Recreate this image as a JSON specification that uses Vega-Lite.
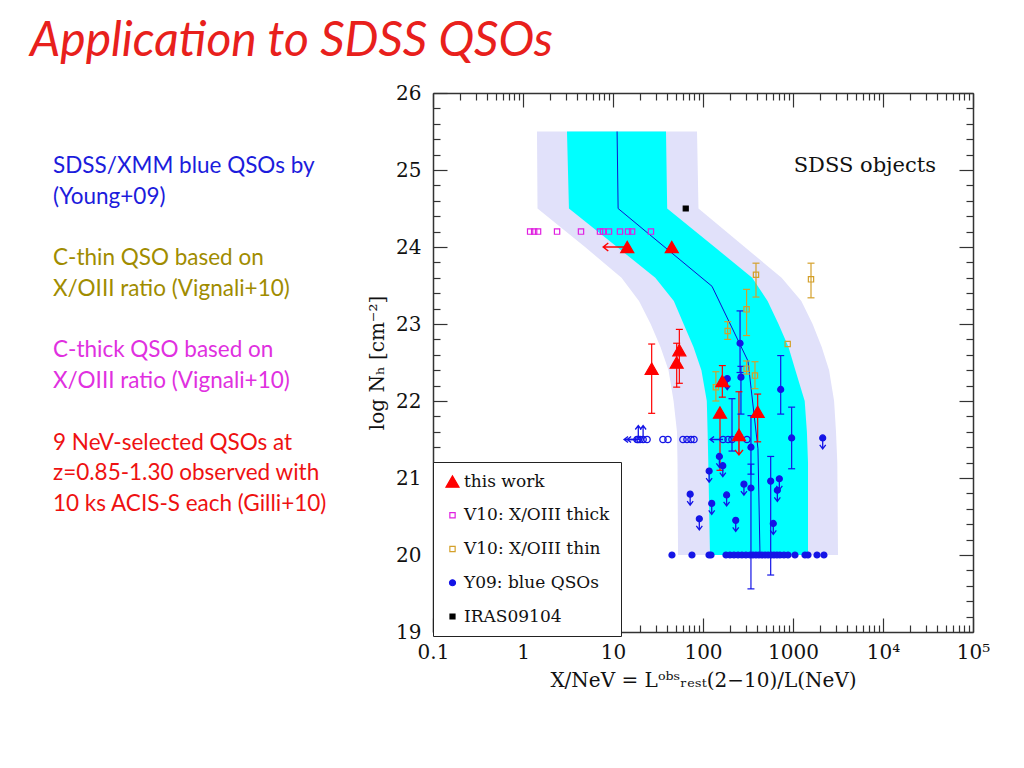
{
  "$schema": "https://vega.github.io/schema/vega-lite/v6.json",
  "background": "white",
  "padding": {"left": 0, "top": 18, "right": 0, "bottom": 0},
  "bounds": "flush",
  "spacing": 327,
  "title": {"text": "Application to SDSS QSOs", "anchor": "start", "font": "Lato", "fontSize": 48, "fontStyle": "italic", "fontWeight": "normal", "color": "#e8201c", "dx": 30, "offset": 17},
  "datasets": {
    "notes": [
      {"line": 0, "text": "SDSS/XMM blue QSOs by", "group": "Y09"},
      {"line": 1, "text": "(Young+09)", "group": "Y09"},
      {"line": 3, "text": "C-thin QSO based on", "group": "thin"},
      {"line": 4, "text": "X/OIII ratio (Vignali+10)", "group": "thin"},
      {"line": 6, "text": "C-thick QSO based on", "group": "thick"},
      {"line": 7, "text": "X/OIII ratio (Vignali+10)", "group": "thick"},
      {"line": 9, "text": "9 NeV-selected QSOs at", "group": "this"},
      {"line": 10, "text": "z=0.85-1.30 observed with", "group": "this"},
      {"line": 11, "text": "10 ks ACIS-S each (Gilli+10)", "group": "this"}
    ],
    "outer": [
      {"nh": 25.5, "lo": 1.43, "hi": 85.8},
      {"nh": 24.5, "lo": 1.45, "hi": 89.1},
      {"nh": 24.0, "lo": 4.89, "hi": 290.6},
      {"nh": 23.6, "lo": 12.43, "hi": 747},
      {"nh": 23.3, "lo": 19.45, "hi": 1237},
      {"nh": 23.0, "lo": 26.2, "hi": 1651},
      {"nh": 22.7, "lo": 33.7, "hi": 2084},
      {"nh": 22.4, "lo": 41.4, "hi": 2518},
      {"nh": 22.0, "lo": 47.1, "hi": 2862},
      {"nh": 21.6, "lo": 51.4, "hi": 3004},
      {"nh": 21.2, "lo": 52.1, "hi": 3106},
      {"nh": 20.0, "lo": 52.8, "hi": 3162}
    ],
    "inner": [
      {"nh": 25.5, "lo": 3.08, "hi": 38.8},
      {"nh": 24.5, "lo": 3.24, "hi": 40.0},
      {"nh": 24.0, "lo": 11.1, "hi": 134.5},
      {"nh": 23.6, "lo": 29.5, "hi": 352},
      {"nh": 23.3, "lo": 47.4, "hi": 522},
      {"nh": 23.0, "lo": 60.9, "hi": 690},
      {"nh": 22.7, "lo": 78.4, "hi": 891},
      {"nh": 22.4, "lo": 96.0, "hi": 1063},
      {"nh": 22.0, "lo": 110.2, "hi": 1349},
      {"nh": 21.6, "lo": 112.5, "hi": 1427},
      {"nh": 21.2, "lo": 114.5, "hi": 1468},
      {"nh": 20.0, "lo": 119.6, "hi": 1468}
    ],
    "median": [
      {"x": 11.1, "nh": 25.5},
      {"x": 11.4, "nh": 24.5},
      {"x": 125.9, "nh": 23.49},
      {"x": 316, "nh": 22.52},
      {"x": 408, "nh": 21.38},
      {"x": 430, "nh": 20.0}
    ],
    "pts": [
      {"series": "Y09: blue QSOs", "x": 258, "y": 22.75, "lo": 22.37, "hi": 23.17},
      {"series": "Y09: blue QSOs", "x": 264, "y": 22.31, "lo": 21.83, "hi": 22.45},
      {"series": "Y09: blue QSOs", "x": 730, "y": 22.15, "lo": 21.83, "hi": 22.59},
      {"series": "Y09: blue QSOs", "x": 966, "y": 21.52, "lo": 21.12, "hi": 21.92},
      {"series": "Y09: blue QSOs", "x": 341, "y": 21.4, "lo": 21.05, "hi": 21.81},
      {"series": "Y09: blue QSOs", "x": 341, "y": 20.87, "lo": 19.56, "hi": 21.18},
      {"series": "Y09: blue QSOs", "x": 565, "y": 20.96, "lo": 19.74, "hi": 21.28},
      {"series": "Y09: blue QSOs", "x": 186, "y": 22.29, "lim": "down"},
      {"series": "Y09: blue QSOs", "x": 2138, "y": 21.52, "lim": "down"},
      {"series": "Y09: blue QSOs", "x": 152, "y": 21.28, "lim": "down"},
      {"series": "Y09: blue QSOs", "x": 166, "y": 21.16, "lim": "down"},
      {"series": "Y09: blue QSOs", "x": 117, "y": 21.09, "lim": "down"},
      {"series": "Y09: blue QSOs", "x": 183, "y": 20.78, "lim": "down"},
      {"series": "Y09: blue QSOs", "x": 125, "y": 20.67, "lim": "down"},
      {"series": "Y09: blue QSOs", "x": 285, "y": 20.92, "lim": "down"},
      {"series": "Y09: blue QSOs", "x": 705, "y": 20.99, "lim": "down"},
      {"series": "Y09: blue QSOs", "x": 670, "y": 20.84, "lim": "down"},
      {"series": "Y09: blue QSOs", "x": 604, "y": 20.41, "lim": "down"},
      {"series": "Y09: blue QSOs", "x": 231, "y": 20.45, "lim": "down"},
      {"series": "Y09: blue QSOs", "x": 91, "y": 20.47, "lim": "down"},
      {"series": "Y09: blue QSOs", "x": 72, "y": 20.79, "lim": "down"},
      {"series": "Y09: blue QSOs", "x": 45.2, "y": 20},
      {"series": "Y09: blue QSOs", "x": 75.4, "y": 20},
      {"series": "Y09: blue QSOs", "x": 116.6, "y": 20},
      {"series": "Y09: blue QSOs", "x": 122.7, "y": 20},
      {"series": "Y09: blue QSOs", "x": 180, "y": 20},
      {"series": "Y09: blue QSOs", "x": 199.5, "y": 20},
      {"series": "Y09: blue QSOs", "x": 221, "y": 20},
      {"series": "Y09: blue QSOs", "x": 245, "y": 20},
      {"series": "Y09: blue QSOs", "x": 271, "y": 20},
      {"series": "Y09: blue QSOs", "x": 300, "y": 20},
      {"series": "Y09: blue QSOs", "x": 333, "y": 20},
      {"series": "Y09: blue QSOs", "x": 359, "y": 20},
      {"series": "Y09: blue QSOs", "x": 388, "y": 20},
      {"series": "Y09: blue QSOs", "x": 419, "y": 20},
      {"series": "Y09: blue QSOs", "x": 452, "y": 20},
      {"series": "Y09: blue QSOs", "x": 489, "y": 20},
      {"series": "Y09: blue QSOs", "x": 528, "y": 20},
      {"series": "Y09: blue QSOs", "x": 570, "y": 20},
      {"series": "Y09: blue QSOs", "x": 615, "y": 20},
      {"series": "Y09: blue QSOs", "x": 664, "y": 20},
      {"series": "Y09: blue QSOs", "x": 717, "y": 20},
      {"series": "Y09: blue QSOs", "x": 794, "y": 20},
      {"series": "Y09: blue QSOs", "x": 880, "y": 20},
      {"series": "Y09: blue QSOs", "x": 1052, "y": 20},
      {"series": "Y09: blue QSOs", "x": 1359, "y": 20},
      {"series": "Y09: blue QSOs", "x": 1468, "y": 20},
      {"series": "Y09: blue QSOs", "x": 1848, "y": 20},
      {"series": "Y09: blue QSOs", "x": 2207, "y": 20},
      {"series": "Y09: blue QSOs", "x": 18.5, "y": 21.5, "kind": "open", "lim": "left"},
      {"series": "Y09: blue QSOs", "x": 19.1, "y": 21.5, "kind": "open", "lim": "up"},
      {"series": "Y09: blue QSOs", "x": 20.0, "y": 21.5, "kind": "open", "lim": "left"},
      {"series": "Y09: blue QSOs", "x": 21.6, "y": 21.5, "kind": "open", "lim": "up"},
      {"series": "Y09: blue QSOs", "x": 23.9, "y": 21.5, "kind": "open"},
      {"series": "Y09: blue QSOs", "x": 35.9, "y": 21.5, "kind": "open"},
      {"series": "Y09: blue QSOs", "x": 40.8, "y": 21.5, "kind": "open"},
      {"series": "Y09: blue QSOs", "x": 59.9, "y": 21.5, "kind": "open"},
      {"series": "Y09: blue QSOs", "x": 66.4, "y": 21.5, "kind": "open"},
      {"series": "Y09: blue QSOs", "x": 73.6, "y": 21.5, "kind": "open"},
      {"series": "Y09: blue QSOs", "x": 79.4, "y": 21.5, "kind": "open"},
      {"series": "Y09: blue QSOs", "x": 167, "y": 21.5, "kind": "open", "lim": "left"},
      {"series": "Y09: blue QSOs", "x": 190, "y": 21.5, "kind": "open"},
      {"series": "Y09: blue QSOs", "x": 210, "y": 21.5, "kind": "open", "lo": 21.35, "hi": 22.03},
      {"series": "Y09: blue QSOs", "x": 308, "y": 21.5, "kind": "open"},
      {"series": "IRAS09104", "x": 64.3, "y": 24.5},
      {"series": "V10: X/OIII thick", "x": 1.2, "y": 24.2},
      {"series": "V10: X/OIII thick", "x": 1.33, "y": 24.2},
      {"series": "V10: X/OIII thick", "x": 1.47, "y": 24.2},
      {"series": "V10: X/OIII thick", "x": 2.39, "y": 24.2},
      {"series": "V10: X/OIII thick", "x": 4.41, "y": 24.2},
      {"series": "V10: X/OIII thick", "x": 7.17, "y": 24.2},
      {"series": "V10: X/OIII thick", "x": 7.74, "y": 24.2},
      {"series": "V10: X/OIII thick", "x": 9.03, "y": 24.2},
      {"series": "V10: X/OIII thick", "x": 11.96, "y": 24.2},
      {"series": "V10: X/OIII thick", "x": 14.7, "y": 24.2},
      {"series": "V10: X/OIII thick", "x": 16.3, "y": 24.2},
      {"series": "V10: X/OIII thick", "x": 26.4, "y": 24.2},
      {"series": "V10: X/OIII thin", "x": 388, "y": 23.64, "lo": 23.35, "hi": 23.79},
      {"series": "V10: X/OIII thin", "x": 1585, "y": 23.58, "lo": 23.34, "hi": 23.79},
      {"series": "V10: X/OIII thin", "x": 305, "y": 23.19, "lo": 22.85, "hi": 23.45},
      {"series": "V10: X/OIII thin", "x": 188, "y": 22.91, "lo": 22.8, "hi": 23.03},
      {"series": "V10: X/OIII thin", "x": 873, "y": 22.74},
      {"series": "V10: X/OIII thin", "x": 305, "y": 22.42, "lo": 22.35, "hi": 22.52},
      {"series": "V10: X/OIII thin", "x": 378, "y": 22.33, "lo": 22.16, "hi": 22.51},
      {"series": "V10: X/OIII thin", "x": 139, "y": 22.18, "lo": 22.0, "hi": 22.38},
      {"series": "this work", "x": 14.4, "y": 24.0, "lim": "left"},
      {"series": "this work", "x": 45, "y": 24.0},
      {"series": "this work", "x": 26.9, "y": 22.42, "lo": 21.84, "hi": 22.74},
      {"series": "this work", "x": 54.6, "y": 22.66, "lo": 22.23, "hi": 22.93},
      {"series": "this work", "x": 51, "y": 22.5, "lo": 22.18, "hi": 22.75},
      {"series": "this work", "x": 164, "y": 22.26, "lo": 22.05, "hi": 22.46},
      {"series": "this work", "x": 154.5, "y": 21.85, "lo": 21.1, "hi": 21.85},
      {"series": "this work", "x": 251, "y": 21.56, "lo": 21.56, "hi": 22.12, "lim": "down"},
      {"series": "this work", "x": 405, "y": 21.86, "lo": 21.47, "hi": 22.09}
    ]
  },
  "resolve": {
    "scale": {"color": "independent"},
    "legend": {"color": "independent"}
  },
  "hconcat": [
    {
      "width": 106,
      "height": 539,
      "data": {"name": "notes"},
      "mark": {"type": "text", "align": "left", "baseline": "middle", "font": "Lato", "fontSize": 22.5},
      "encoding": {
        "y": {"field": "line", "type": "quantitative", "scale": {"domain": [-2.376, 15.166], "reverse": true, "nice": false, "zero": false}, "axis": null},
        "text": {"field": "text"},
        "color": {"field": "group", "type": "nominal", "scale": {"domain": ["Y09", "thin", "thick", "this"], "range": ["#1c1cdc", "#a08c00", "#e030e0", "#ee1111"]}, "legend": null}
      }
    },
    {
      "width": 540,
      "height": 539,
      "title": {"text": "SDSS objects", "anchor": "end", "orient": "top", "frame": "group", "offset": -104, "dx": -37, "baseline": "middle", "font": "DejaVu Serif", "fontSize": 21, "fontWeight": "normal", "color": "#111"},
      "resolve": {"axis": {"x": "independent", "y": "independent"}},
      "layer": [
        {
          "data": {"name": "outer"},
          "mark": {"type": "area", "orient": "horizontal", "color": "#e1e1fa"},
          "encoding": {
            "y": {"field": "nh", "type": "quantitative", "scale": {"domain": [19, 26], "nice": false, "zero": false},
              "axis": {"orient": "left", "values": [19, 20, 21, 22, 23, 24, 25, 26], "format": "d", "tickSize": -14, "tickWidth": 1.2, "tickColor": "#333", "domainColor": "#333", "domainWidth": 1.5, "labelFont": "DejaVu Serif", "labelFontSize": 20, "labelColor": "#111", "labelPadding": 26, "labelOverlap": false, "labelFlush": false, "labelBound": false, "grid": false, "title": "log Nₕ [cm⁻²]", "titleFont": "DejaVu Serif", "titleFontSize": 20, "titleFontWeight": "normal", "titleColor": "#111", "titlePadding": 8, "zindex": 2}},
            "x": {"field": "lo", "type": "quantitative", "scale": {"type": "log", "domain": [0.1, 100000], "nice": false},
              "axis": {"orient": "bottom", "values": [0.1, 1, 10, 100, 1000, 10000, 100000], "labelExpr": "datum.value > 50000 ? '10⁵' : datum.value > 5000 ? '10⁴' : datum.value < 0.5 ? '0.1' : format(datum.value, 'd')", "tickSize": -14, "tickWidth": 1.2, "tickColor": "#333", "domainColor": "#333", "domainWidth": 1.5, "labelFont": "DejaVu Serif", "labelFontSize": 20, "labelColor": "#111", "labelPadding": 24, "labelOverlap": false, "labelFlush": false, "labelBound": false, "grid": false, "title": "X/NeV = Lᵒᵇˢᵣₑₛₜ(2−10)/L(NeV)", "titleFont": "DejaVu Serif", "titleFontSize": 20, "titleFontWeight": "normal", "titleColor": "#111", "titlePadding": 8, "zindex": 2}},
            "x2": {"field": "hi"}
          }
        },
        {
          "data": {"name": "inner"},
          "mark": {"type": "area", "orient": "horizontal", "color": "#00ffff"},
          "encoding": {
            "y": {"field": "nh", "type": "quantitative", "scale": {"domain": [19, 26], "nice": false, "zero": false},
              "axis": {"orient": "left", "values": [19.2, 19.4, 19.6, 19.8, 20.2, 20.4, 20.6, 20.8, 21.2, 21.4, 21.6, 21.8, 22.2, 22.4, 22.6, 22.8, 23.2, 23.4, 23.6, 23.8, 24.2, 24.4, 24.6, 24.8, 25.2, 25.4, 25.6, 25.8], "labels": false, "domain": false, "tickSize": -7, "tickWidth": 1.2, "tickColor": "#333", "grid": false, "title": null, "zindex": 2}},
            "x": {"field": "lo", "type": "quantitative", "scale": {"type": "log", "domain": [0.1, 100000], "nice": false},
              "axis": {"orient": "bottom", "values": [0.2, 0.3, 0.4, 0.5, 0.6, 0.7, 0.8, 0.9, 2, 3, 4, 5, 6, 7, 8, 9, 20, 30, 40, 50, 60, 70, 80, 90, 200, 300, 400, 500, 600, 700, 800, 900, 2000, 3000, 4000, 5000, 6000, 7000, 8000, 9000, 20000, 30000, 40000, 50000, 60000, 70000, 80000, 90000], "labels": false, "domain": false, "tickSize": -7, "tickWidth": 1.2, "tickColor": "#333", "grid": false, "title": null, "zindex": 2}},
            "x2": {"field": "hi"}
          }
        },
        {
          "data": {"name": "median"},
          "mark": {"type": "line", "color": "#1010d0", "strokeWidth": 1},
          "encoding": {
            "y": {"field": "nh", "type": "quantitative", "scale": {"domain": [19, 26], "nice": false, "zero": false},
              "axis": {"orient": "right", "values": [19, 20, 21, 22, 23, 24, 25, 26], "labels": false, "tickSize": -14, "tickWidth": 1.2, "tickColor": "#333", "domainColor": "#333", "domainWidth": 1.5, "grid": false, "title": null, "zindex": 2}},
            "x": {"field": "x", "type": "quantitative", "scale": {"type": "log", "domain": [0.1, 100000], "nice": false},
              "axis": {"orient": "top", "values": [0.1, 1, 10, 100, 1000, 10000, 100000], "labels": false, "tickSize": -14, "tickWidth": 1.2, "tickColor": "#333", "domainColor": "#333", "domainWidth": 1.5, "grid": false, "title": null, "zindex": 2}}
          }
        },
        {
          "data": {"name": "pts"},
          "transform": [{"filter": "isValid(datum.lo)"}],
          "mark": {"type": "rule", "strokeWidth": 1.2},
          "encoding": {
            "y": {"field": "lo", "type": "quantitative", "scale": {"domain": [19, 26], "nice": false, "zero": false},
              "axis": {"orient": "right", "values": [19.2, 19.4, 19.6, 19.8, 20.2, 20.4, 20.6, 20.8, 21.2, 21.4, 21.6, 21.8, 22.2, 22.4, 22.6, 22.8, 23.2, 23.4, 23.6, 23.8, 24.2, 24.4, 24.6, 24.8, 25.2, 25.4, 25.6, 25.8], "labels": false, "domain": false, "tickSize": -7, "tickWidth": 1.2, "tickColor": "#333", "grid": false, "title": null, "zindex": 2}},
            "y2": {"field": "hi"},
            "x": {"field": "x", "type": "quantitative", "scale": {"type": "log", "domain": [0.1, 100000], "nice": false},
              "axis": {"orient": "top", "values": [0.2, 0.3, 0.4, 0.5, 0.6, 0.7, 0.8, 0.9, 2, 3, 4, 5, 6, 7, 8, 9, 20, 30, 40, 50, 60, 70, 80, 90, 200, 300, 400, 500, 600, 700, 800, 900, 2000, 3000, 4000, 5000, 6000, 7000, 8000, 9000, 20000, 30000, 40000, 50000, 60000, 70000, 80000, 90000], "labels": false, "domain": false, "tickSize": -7, "tickWidth": 1.2, "tickColor": "#333", "grid": false, "title": null, "zindex": 2}},
            "color": {"field": "series", "type": "nominal", "scale": {"domain": ["this work", "V10: X/OIII thick", "V10: X/OIII thin", "Y09: blue QSOs", "IRAS09104"], "range": ["#ff0000", "#e020e0", "#d4a02a", "#1414e6", "#000000"]}, "legend": null}
          }
        },
        {
          "data": {"name": "pts"},
          "transform": [{"filter": "isValid(datum.lo)"}, {"fold": ["lo", "hi"], "as": ["end", "val"]}],
          "mark": {"type": "point", "shape": "stroke", "size": 49, "strokeWidth": 1.2, "opacity": 1},
          "encoding": {
            "y": {"field": "val", "type": "quantitative", "scale": {"domain": [19, 26], "nice": false, "zero": false}, "axis": null},
            "x": {"field": "x", "type": "quantitative", "scale": {"type": "log", "domain": [0.1, 100000], "nice": false}, "axis": null},
            "color": {"field": "series", "type": "nominal", "scale": {"domain": ["this work", "V10: X/OIII thick", "V10: X/OIII thin", "Y09: blue QSOs", "IRAS09104"], "range": ["#ff0000", "#e020e0", "#d4a02a", "#1414e6", "#000000"]}, "legend": null}
          }
        },
        {
          "data": {"name": "pts"},
          "transform": [{"filter": "datum.lim == 'down' && datum.series == 'Y09: blue QSOs'"}],
          "mark": {"type": "point", "shape": "M0,0L0,11M-3,7L0,11L3,7", "size": 4, "filled": false, "stroke": "#1414e6", "strokeWidth": 1.3, "opacity": 1},
          "encoding": {
            "y": {"field": "y", "type": "quantitative", "scale": {"domain": [19, 26], "nice": false, "zero": false}, "axis": null},
            "x": {"field": "x", "type": "quantitative", "scale": {"type": "log", "domain": [0.1, 100000], "nice": false}, "axis": null}
          }
        },
        {
          "data": {"name": "pts"},
          "transform": [{"filter": "datum.lim == 'down' && datum.series == 'this work'"}],
          "mark": {"type": "point", "shape": "M0,0L0,20M-4,15L0,20L4,15", "size": 4, "filled": false, "stroke": "#ff0000", "strokeWidth": 1.5, "opacity": 1},
          "encoding": {
            "y": {"field": "y", "type": "quantitative", "scale": {"domain": [19, 26], "nice": false, "zero": false}, "axis": null},
            "x": {"field": "x", "type": "quantitative", "scale": {"type": "log", "domain": [0.1, 100000], "nice": false}, "axis": null}
          }
        },
        {
          "data": {"name": "pts"},
          "transform": [{"filter": "datum.lim == 'left' && datum.series == 'this work'"}],
          "mark": {"type": "point", "shape": "M0,0L-24,0M-19,-4L-24,0L-19,4", "size": 4, "filled": false, "stroke": "#ff0000", "strokeWidth": 1.5, "opacity": 1},
          "encoding": {
            "y": {"field": "y", "type": "quantitative", "scale": {"domain": [19, 26], "nice": false, "zero": false}, "axis": null},
            "x": {"field": "x", "type": "quantitative", "scale": {"type": "log", "domain": [0.1, 100000], "nice": false}, "axis": null}
          }
        },
        {
          "data": {"name": "pts"},
          "transform": [{"filter": "datum.lim == 'left' && datum.series == 'Y09: blue QSOs'"}],
          "mark": {"type": "point", "shape": "M0,0L-13,0M-9,-3L-13,0L-9,3", "size": 4, "filled": false, "stroke": "#1414e6", "strokeWidth": 1.3, "opacity": 1},
          "encoding": {
            "y": {"field": "y", "type": "quantitative", "scale": {"domain": [19, 26], "nice": false, "zero": false}, "axis": null},
            "x": {"field": "x", "type": "quantitative", "scale": {"type": "log", "domain": [0.1, 100000], "nice": false}, "axis": null}
          }
        },
        {
          "data": {"name": "pts"},
          "transform": [{"filter": "datum.lim == 'up'"}],
          "mark": {"type": "point", "shape": "M0,0L0,-14M-3,-10L0,-14L3,-10", "size": 4, "filled": false, "stroke": "#1414e6", "strokeWidth": 1.3, "opacity": 1},
          "encoding": {
            "y": {"field": "y", "type": "quantitative", "scale": {"domain": [19, 26], "nice": false, "zero": false}, "axis": null},
            "x": {"field": "x", "type": "quantitative", "scale": {"type": "log", "domain": [0.1, 100000], "nice": false}, "axis": null}
          }
        },
        {
          "data": {"name": "pts"},
          "transform": [{"filter": "datum.kind == 'open'"}],
          "mark": {"type": "point", "shape": "circle", "size": 40, "filled": false, "stroke": "#1414e6", "strokeWidth": 1.3, "opacity": 1},
          "encoding": {
            "y": {"field": "y", "type": "quantitative", "scale": {"domain": [19, 26], "nice": false, "zero": false}, "axis": null},
            "x": {"field": "x", "type": "quantitative", "scale": {"type": "log", "domain": [0.1, 100000], "nice": false}, "axis": null}
          }
        },
        {
          "data": {"name": "pts"},
          "transform": [{"filter": "datum.kind != 'open'"}],
          "mark": {"type": "point", "strokeWidth": 1.2, "opacity": 1},
          "encoding": {
            "y": {"field": "y", "type": "quantitative", "scale": {"domain": [19, 26], "nice": false, "zero": false}, "axis": null},
            "x": {"field": "x", "type": "quantitative", "scale": {"type": "log", "domain": [0.1, 100000], "nice": false}, "axis": null},
            "shape": {"field": "series", "type": "nominal", "scale": {"domain": ["this work", "V10: X/OIII thick", "V10: X/OIII thin", "Y09: blue QSOs", "IRAS09104"], "range": ["triangle-up", "square", "square", "circle", "square"]}, "legend": {"title": null}},
            "fill": {"field": "series", "type": "nominal", "scale": {"domain": ["this work", "V10: X/OIII thick", "V10: X/OIII thin", "Y09: blue QSOs", "IRAS09104"], "range": ["#ff0000", "transparent", "transparent", "#1414e6", "#000000"]}, "legend": {"title": null}},
            "stroke": {"field": "series", "type": "nominal", "scale": {"domain": ["this work", "V10: X/OIII thick", "V10: X/OIII thin", "Y09: blue QSOs", "IRAS09104"], "range": ["#ff0000", "#e020e0", "#d4a02a", "#1414e6", "#000000"]}, "legend": {"title": null}},
            "size": {"field": "series", "type": "nominal", "scale": {"type": "ordinal", "domain": ["this work", "V10: X/OIII thick", "V10: X/OIII thin", "Y09: blue QSOs", "IRAS09104"], "range": [170, 28, 28, 36, 25]}, "legend": {"title": null}}
          }
        }
      ]
    }
  ],
  "config": {
    "view": {"stroke": null},
    "legend": {"orient": "none", "legendX": 433, "legendY": 369, "padding": 11, "rowPadding": 15.75, "strokeColor": "#222", "fillColor": "#ffffff", "labelFont": "DejaVu Serif", "labelFontSize": 17, "labelColor": "#111", "labelOffset": 3, "symbolStrokeWidth": 1.2, "labelLimit": 400, "zindex": 1}
  }
}
